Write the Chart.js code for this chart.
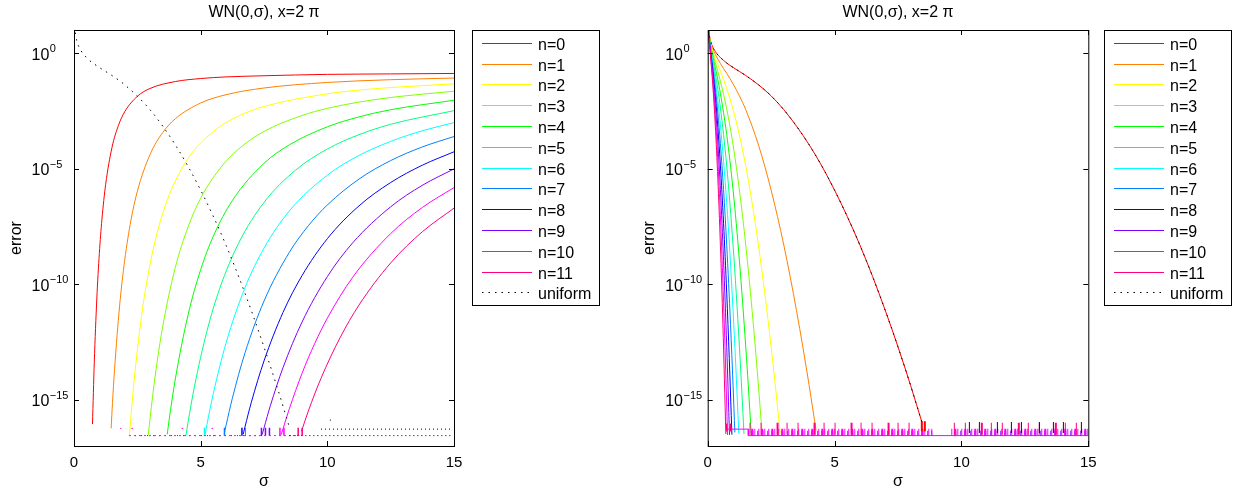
<!DOCTYPE html>
<html>
<head>
<meta charset="utf-8">
<script src="https://cdn.jsdelivr.net/npm/chart.js@4.4.1/dist/chart.umd.min.js"></script>
<style>
  body { margin: 0; background: #fff; width: 1242px; height: 493px; overflow: hidden; position: relative; }
  canvas { position: absolute; top: 0; }
</style>
</head>
<body>
<canvas id="left" width="621" height="493" style="left:0"></canvas>
<canvas id="right" width="621" height="493" style="left:621px"></canvas>
<script>
// ------------------------------------------------------------
// WN(0,sigma) at x = 2 pi : error vs sigma, two approximations
// values are read off the picture, errors kept as log10(error)
// ------------------------------------------------------------

const FONT = '"Liberation Sans", Arial, sans-serif';

const titleText = 'WN(0,\u03c3), x=2 \u03c0';
const xTicks = [0, 5, 10, 15];
const yTickExp = [0, -5, -10, -15];
const yTickExpText = ['0', '\u22125', '\u221210', '\u221215'];

const seriesLabels = ['n=0', 'n=1', 'n=2', 'n=3', 'n=4', 'n=5', 'n=6', 'n=7', 'n=8', 'n=9', 'n=10', 'n=11'];
const seriesColors = ['#ff0000', '#ff8000', '#ffff00', '#80ff00', '#00ff00', '#00ff80',
                      '#00ffff', '#0080ff', '#0000ff', '#8000ff', '#ff00ff', '#ff0080'];

// --- left panel: one curve per n ---
const leftSigma = [
  [0.73, 0.8, 0.9, 1.0, 1.1, 1.25, 1.5, 1.75, 2.0, 2.5, 3, 4, 5, 6, 7.5, 10, 12.5, 15],
  [1.465, 1.52, 1.6, 1.8, 2.0, 2.25, 2.5, 3, 3.5, 4, 5, 6, 7.5, 10, 12.5, 15],
  [2.19, 2.25, 2.4, 2.7, 3.0, 3.3, 3.75, 4.5, 5.5, 6.5, 7.5, 10, 11.25, 12.5, 15],
  [2.93, 3.0, 3.2, 3.5, 4.0, 4.5, 5.0, 5.75, 6.5, 7.5, 9, 10, 11.25, 12.5, 15],
  [3.68, 3.75, 4.0, 4.5, 5.0, 5.5, 6.25, 7.5, 8.5, 10, 11.25, 12.5, 15],
  [4.42, 4.5, 4.75, 5.25, 5.75, 6.5, 7.5, 8.75, 10, 11.25, 12.5, 15],
  [5.17, 5.25, 5.5, 6.0, 6.75, 7.5, 8.5, 10, 11.25, 12.5, 13.75, 15],
  [5.93, 6.0, 6.25, 6.75, 7.5, 8.5, 9.25, 10, 11.25, 12.5, 13.75, 15],
  [6.68, 6.75, 7.0, 7.5, 8.25, 9.0, 10, 11.25, 12.5, 13.75, 15],
  [7.43, 7.5, 7.75, 8.25, 9.0, 10, 11, 12.5, 13.75, 15],
  [8.18, 8.25, 8.5, 9.0, 9.5, 10, 11, 12.5, 13.75, 15],
  [8.98, 9.25, 9.75, 10.5, 11.25, 12.5, 13.75, 15]
];
const leftLogErr = [
  [-16.05, -13.40, -10.64, -8.67, -7.22, -5.68, -4.08, -3.14, -2.54, -1.87, -1.53, -1.23, -1.10, -1.03, -0.98, -0.92, -0.90, -0.88],
  [-16.24, -15.12, -13.70, -10.94, -8.97, -7.22, -5.98, -4.39, -3.44, -2.84, -2.16, -1.80, -1.51, -1.27, -1.15, -1.08],
  [-16.53, -15.69, -13.87, -11.11, -9.15, -7.70, -6.16, -4.56, -3.39, -2.72, -2.31, -1.76, -1.60, -1.49, -1.33],
  [-16.54, -15.82, -14.00, -11.84, -9.27, -7.53, -6.28, -5.01, -4.15, -3.39, -2.70, -2.39, -2.12, -1.92, -1.65],
  [-16.50, -15.91, -14.10, -11.34, -9.37, -7.92, -6.38, -4.77, -3.97, -3.19, -2.76, -2.45, -2.04],
  [-16.54, -15.99, -14.45, -12.02, -10.19, -8.22, -6.46, -5.06, -4.15, -3.53, -3.08, -2.49],
  [-16.53, -16.06, -14.73, -12.55, -10.15, -8.44, -6.83, -5.28, -4.43, -3.82, -3.36, -3.01],
  [-16.47, -16.12, -14.94, -12.97, -10.73, -8.62, -7.47, -6.57, -5.45, -4.65, -4.06, -3.61],
  [-16.49, -16.17, -15.11, -13.32, -11.22, -9.63, -8.03, -6.61, -5.60, -4.85, -4.27],
  [-16.50, -16.22, -15.26, -13.61, -11.64, -9.67, -8.21, -6.65, -5.72, -5.01],
  [-16.51, -16.26, -15.39, -13.86, -12.57, -11.47, -9.70, -7.81, -6.68, -5.82],
  [-16.36, -15.49, -14.07, -12.32, -10.90, -9.08, -7.73, -6.71]
];
const leftUniSigma = [0.05, 0.1, 0.2, 0.5, 1, 1.5, 2, 3, 4, 5, 6, 7, 8, 8.5];
const leftUniLog   = [0.89, 0.58, 0.26, -0.20, -0.62, -0.97, -1.37, -2.45, -3.97, -5.93, -8.31, -11.14, -14.39, -16.18];

// round-off floor, left panel
const leftFloorSigma = [2.17, 8.9];
const leftFloorLog = [-16.55, -16.55];
const leftFloor2Sigma = [2.25, 7.55];
const leftDotSigma = [1.82, 1.87, 1.9, 2.27, 2.33, 2.4, 4.25, 4.31, 4.4, 5.43, 5.49];
const leftDotLog = [-16.24, -16.24, null, -16.24, -16.24, null, -16.24, -16.24, null, -16.24, -16.24];
const leftSpikeFrom = [5.12, 5.91, 6.6, 7.37, 8.1, 8.82];   // n = 6..11
const leftSpikeTo   = [5.27, 6.05, 6.78, 7.76, 8.36, 9.12];
const leftSpikeLog = -16.38;
const leftUniNoiseSigma = [8.5, 14.95, 14.97, 9.75, 14.9, 14.92, 10.1, 10.17];
const leftUniNoiseLog   = [-16.55, -16.55, null, -16.27, -16.27, null, -15.88, -15.88];

// --- right panel: one curve per n ---
const rightSigma = [
  [0.02, 0.05, 0.1, 0.2, 0.3, 0.4, 0.5, 0.75, 1, 1.5, 2, 2.5, 3, 3.5, 4, 4.5, 5, 5.5, 6, 6.5, 7, 7.5, 8, 8.45],
  [0.02, 0.05, 0.1, 0.2, 0.3, 0.4, 0.5, 0.75, 1, 1.25, 1.5, 2, 2.5, 3, 3.5, 4, 4.27],
  [0.02, 0.05, 0.1, 0.2, 0.3, 0.4, 0.5, 0.75, 1, 1.25, 1.5, 1.75, 2, 2.25, 2.5, 2.75, 2.86],
  [0.02, 0.05, 0.1, 0.2, 0.3, 0.4, 0.5, 0.75, 1, 1.25, 1.5, 1.75, 2, 2.14],
  [0.02, 0.05, 0.1, 0.2, 0.3, 0.4, 0.5, 0.75, 1, 1.25, 1.5, 1.6, 1.72],
  [0.02, 0.05, 0.1, 0.2, 0.3, 0.4, 0.5, 0.75, 1, 1.125, 1.25, 1.35, 1.43],
  [0.02, 0.05, 0.1, 0.2, 0.3, 0.4, 0.5, 0.75, 0.875, 1, 1.1, 1.225],
  [0.02, 0.05, 0.1, 0.2, 0.3, 0.4, 0.5, 0.625, 0.75, 0.9, 1, 1.07],
  [0.02, 0.05, 0.1, 0.2, 0.3, 0.4, 0.5, 0.625, 0.75, 0.85, 0.954],
  [0.02, 0.05, 0.1, 0.2, 0.3, 0.4, 0.5, 0.625, 0.75, 0.859],
  [0.02, 0.05, 0.1, 0.2, 0.3, 0.4, 0.5, 0.625, 0.7, 0.781],
  [0.02, 0.05, 0.1, 0.2, 0.3, 0.4, 0.5, 0.6, 0.715]
];
const rightLogErr = [
  [1.30, 0.89, 0.58, 0.26, 0.07, -0.08, -0.19, -0.43, -0.62, -0.97, -1.37, -1.85, -2.45, -3.16, -3.97, -4.89, -5.93, -7.07, -8.31, -9.67, -11.14, -12.71, -14.39, -16.00],
  [1.29, 0.88, 0.55, 0.18, -0.06, -0.26, -0.45, -0.88, -1.33, -1.85, -2.45, -3.97, -5.93, -8.31, -11.14, -14.39, -16.33],
  [1.28, 0.86, 0.51, 0.09, -0.22, -0.50, -0.78, -1.54, -2.44, -3.55, -4.89, -6.48, -8.31, -10.39, -12.71, -15.28, -16.48],
  [1.27, 0.84, 0.46, -0.02, -0.41, -0.80, -1.21, -2.42, -3.97, -5.93, -8.31, -11.14, -14.40, -16.41],
  [1.27, 0.82, 0.42, -0.14, -0.63, -1.16, -1.74, -3.53, -5.92, -8.98, -12.71, -14.39, -16.56],
  [1.26, 0.80, 0.37, -0.27, -0.89, -1.57, -2.36, -4.88, -8.31, -10.39, -12.71, -14.74, -16.48],
  [1.25, 0.77, 0.31, -0.41, -1.17, -2.05, -3.09, -6.48, -8.64, -11.14, -13.37, -16.46],
  [1.24, 0.75, 0.26, -0.58, -1.50, -2.60, -3.92, -5.91, -8.31, -11.75, -14.39, -16.41],
  [1.24, 0.73, 0.20, -0.75, -1.86, -3.21, -4.85, -7.36, -10.39, -13.21, -16.51],
  [1.23, 0.70, 0.13, -0.94, -2.25, -3.89, -5.89, -8.98, -12.71, -16.52],
  [1.22, 0.68, 0.07, -1.15, -2.68, -4.63, -7.04, -10.76, -13.37, -16.52],
  [1.21, 0.65, 0.00, -1.37, -3.15, -5.44, -8.30, -11.75, -16.48]
];
// uniform runs on top of n=0 in this panel
const rightUniSigma = rightSigma[0];
const rightUniLog = rightLogErr[0];

// round-off floor, right panel
const rightFloorSigma = [0.72, 1.6, 1.6, 15];
const rightFloorLog = [-16.27, -16.27, -16.55, -16.55];
const rightEarlySigma = [0.72, 1.0];
const rightEarlyLog = [-16.2, -16.2];
const rightBandSigma = [1.6, 8.85, 9.2, 9.6, 15];
const rightBandLog = [-16.4, -16.4, null, -16.4, -16.4];
const rightBand2Log = [-16.45, -16.45, null, -16.45, -16.45];
const rightSpikeSigma = [1.65, 8.3, 8.7, 9.7, 15];
const rightSpikeLog = [-16.25, -16.25, null, -16.25, -16.25];
const rightRedSigma = [8.4, 8.62];
const rightRedLog = [-16.15, -16.15];
const rightDarkSigma = [9.9, 14.8];
const rightDarkLog = [-16.2, -16.2];

const legendLabels = seriesLabels.concat(['uniform']);
const legendColors = seriesColors.concat(['#000']);
const uniformDash = [1.5, 5];

// ------------------------------------------------------------

function pts(sig, lg) {
  return sig.map((s, i) => ({ x: s, y: lg[i] === null ? null : Math.pow(10, lg[i]) }));
}

function curve(color, sig, lg, dash) {
  return {
    data: pts(sig, lg),
    borderColor: color,
    borderWidth: 1,
    borderDash: dash,
    pointRadius: 0,
    cubicInterpolationMode: 'monotone',
    fill: false
  };
}

function stripe(color, sig, lg, width, dash, offset) {
  return {
    data: pts(sig, lg),
    borderColor: color,
    borderWidth: width,
    borderDash: dash,
    borderDashOffset: offset || 0,
    borderCapStyle: 'butt',
    pointRadius: 0,
    tension: 0,
    spanGaps: false,
    fill: false
  };
}

function buildLeft() {
  const ds = [];
  leftSigma.forEach((s, n) => ds.push(curve(seriesColors[n], s, leftLogErr[n], [])));
  leftSpikeFrom.forEach((a, i) => {
    ds.push(stripe(seriesColors[6 + i], [a, leftSpikeTo[i]], [leftSpikeLog, leftSpikeLog], 8, [1.5, 2.5]));
  });
  ds.push(stripe('#8000ff', leftFloor2Sigma, leftFloorLog, 1, [1, 5], 2));
  ds.push(stripe('#ff00ff', leftFloorSigma, leftFloorLog, 1, [2, 3]));
  ds.push(stripe('#ff00ff', leftDotSigma, leftDotLog, 1, []));
  ds.push(stripe('#000', leftUniNoiseSigma, leftUniNoiseLog, 1, [1, 3]));
  ds.push(curve('#000', leftUniSigma, leftUniLog, uniformDash));
  ds.forEach((d, k) => { d.order = -k; });
  return ds;
}

function buildRight() {
  const ds = [];
  rightSigma.forEach((s, n) => ds.push(curve(seriesColors[n], s, rightLogErr[n], [])));
  ds.push(stripe('#ff00ff', rightFloorSigma, rightFloorLog, 1, []));
  ds.push(stripe('#ff0080', rightEarlySigma, rightEarlyLog, 8, [1.5, 2.5]));
  ds.push(stripe('#8000ff', rightBandSigma, rightBand2Log, 5, [1, 3, 2, 4], 1));
  ds.push(stripe('#ff00ff', rightBandSigma, rightBandLog, 7, [1, 2, 2, 1, 1, 3]));
  ds.push(stripe('#ff0080', rightSpikeSigma, rightSpikeLog, 12, [1, 10, 1, 15, 2, 8]));
  ds.push(stripe('#ff0000', rightRedSigma, rightRedLog, 10, [2, 1]));
  ds.push(stripe('#300030', rightDarkSigma, rightDarkLog, 11, [1, 13, 1, 9, 1, 17], 4));
  ds.push(curve('#000', rightUniSigma, rightUniLog, uniformDash));
  ds.forEach((d, k) => { d.order = -k; });
  return ds;
}

// frame, inward ticks, labels and the boxed legend, drawn like the original
function matlabFrame(legendLeft) {
  return {
    id: 'matlabFrame',
    afterDraw(chart) {
      const { ctx, chartArea: a } = chart;
      const xs = chart.scales.x, ys = chart.scales.y;
      ctx.save();
      ctx.setLineDash([]);
      ctx.strokeStyle = '#000';
      ctx.lineWidth = 1;
      ctx.strokeRect(a.left + 0.5, a.top + 0.5, a.right - a.left, a.bottom - a.top);

      ctx.beginPath();
      xTicks.forEach(v => {
        const px = Math.round(xs.getPixelForValue(v)) + 0.5;
        ctx.moveTo(px, a.bottom); ctx.lineTo(px, a.bottom - 5);
        ctx.moveTo(px, a.top); ctx.lineTo(px, a.top + 5);
      });
      yTickExp.forEach(e => {
        const py = Math.round(ys.getPixelForValue(Math.pow(10, e))) + 0.5;
        ctx.moveTo(a.left, py); ctx.lineTo(a.left + 5, py);
        ctx.moveTo(a.right, py); ctx.lineTo(a.right - 5, py);
      });
      ctx.stroke();

      ctx.fillStyle = '#000';
      ctx.textBaseline = 'alphabetic';
      ctx.font = '15px ' + FONT;
      ctx.textAlign = 'center';
      xTicks.forEach(v => ctx.fillText(String(v), xs.getPixelForValue(v), a.bottom + 21));

      ctx.textAlign = 'left';
      yTickExp.forEach((e, i) => {
        const py = ys.getPixelForValue(Math.pow(10, e));
        const x0 = a.left - 42.5;
        ctx.font = '16px ' + FONT;
        ctx.fillText('10', x0, py + 6.5);
        const w = ctx.measureText('10').width;
        ctx.font = '11px ' + FONT;
        ctx.fillText(yTickExpText[i], x0 + w + 0.5, py - 1);
      });

      const cx = (a.left + a.right) / 2;
      ctx.textAlign = 'center';
      ctx.font = '16px ' + FONT;
      ctx.fillText(titleText, cx, 17);
      ctx.fillText('\u03c3', cx, a.bottom + 39.5);
      ctx.save();
      ctx.translate(a.left - 53.5, (a.top + a.bottom) / 2);
      ctx.rotate(-Math.PI / 2);
      ctx.fillText('error', 0, 0);
      ctx.restore();

      // legend box
      const lx = legendLeft, ly = 30, lw = 127, lh = 275;
      ctx.fillStyle = '#fff';
      ctx.fillRect(lx, ly, lw, lh);
      ctx.strokeStyle = '#000';
      ctx.strokeRect(lx + 0.5, ly + 0.5, lw, lh);
      ctx.font = '16px ' + FONT;
      ctx.textAlign = 'left';
      legendLabels.forEach((lab, i) => {
        const y = Math.round(ly + 12.7 + i * 20.8) + 0.5;
        ctx.strokeStyle = legendColors[i];
        ctx.setLineDash(i === legendLabels.length - 1 ? uniformDash : []);
        ctx.beginPath();
        ctx.moveTo(lx + 10, y);
        ctx.lineTo(lx + 60, y);
        ctx.stroke();
        ctx.fillStyle = '#000';
        ctx.fillText(lab, lx + 66, y + 6);
      });
      ctx.restore();
    }
  };
}

function makeChart(id, datasets, pad, legendLeft) {
  return new Chart(document.getElementById(id), {
    type: 'line',
    data: { datasets },
    options: {
      responsive: false,
      animation: false,
      events: [],
      layout: { padding: pad },
      plugins: { legend: { display: false }, title: { display: false }, tooltip: { enabled: false } },
      scales: {
        x: { type: 'linear', min: 0, max: 15, display: false },
        y: { type: 'logarithmic', min: 1e-17, max: 10, display: false }
      }
    },
    plugins: [matlabFrame(legendLeft)]
  });
}

makeChart('left', buildLeft(), { left: 74, right: 167, top: 30, bottom: 47 }, 472);
makeChart('right', buildRight(), { left: 86.7, right: 153.7, top: 30, bottom: 47 }, 483);
</script>
</body>
</html>
